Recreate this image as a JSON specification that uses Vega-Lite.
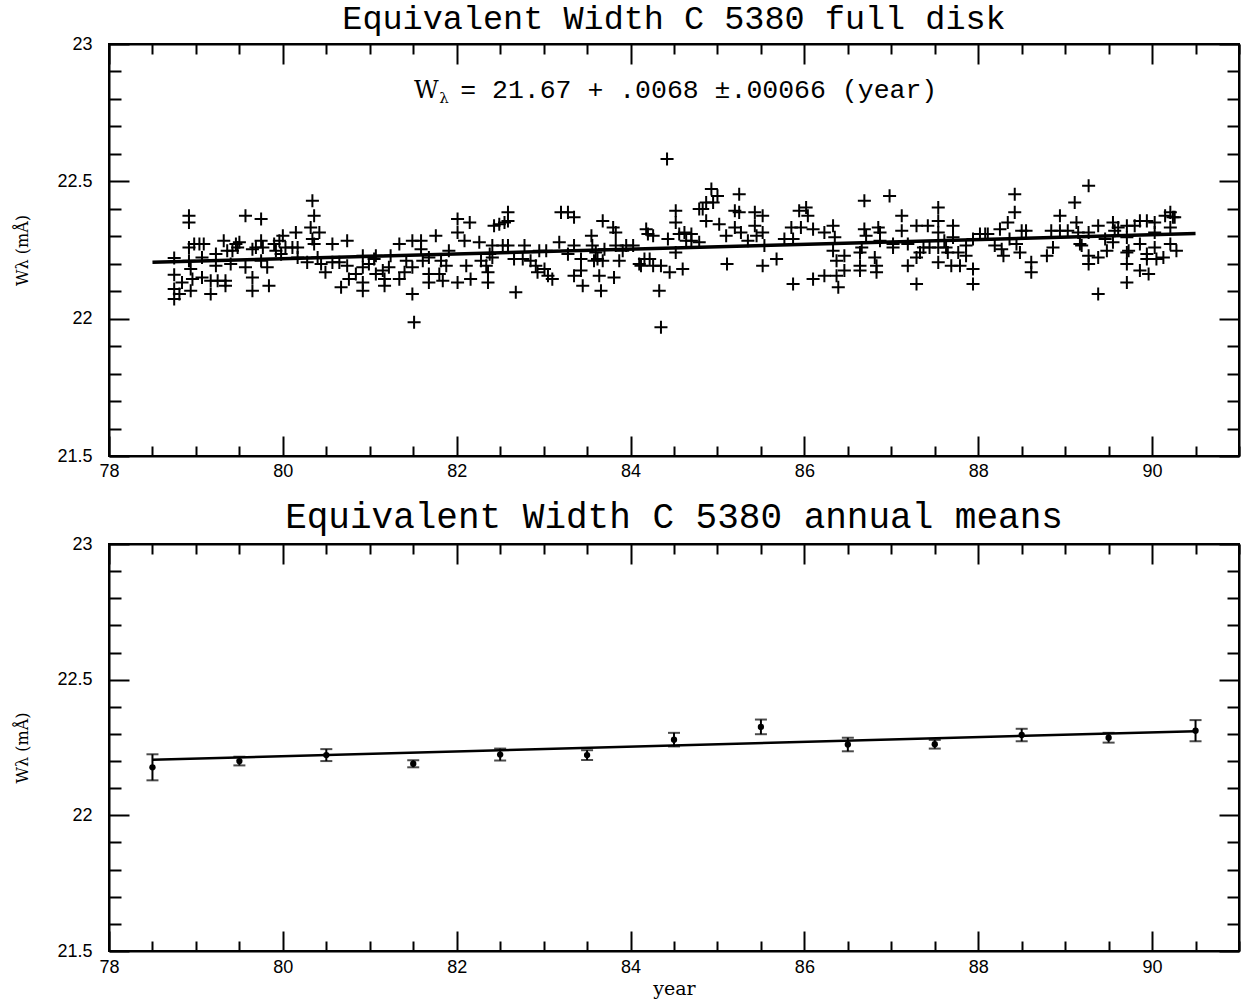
{
"$schema":"https://vega.github.io/schema/vega-lite/v6.json",
"background":"white",
"padding":{"left":13,"top":0,"right":0,"bottom":0},
"spacing":7,
"datasets":{
"fit":[{"year":78.5,"w":22.205},{"year":90.5,"w":22.31}],
"annual":[{"year":78.5,"w":22.177,"err":0.048},{"year":79.5,"w":22.2,"err":0.016},{"year":80.5,"w":22.222,"err":0.022},{"year":81.5,"w":22.19,"err":0.013},{"year":82.5,"w":22.224,"err":0.022},{"year":83.5,"w":22.222,"err":0.018},{"year":84.5,"w":22.279,"err":0.025},{"year":85.5,"w":22.326,"err":0.027},{"year":86.5,"w":22.261,"err":0.025},{"year":87.5,"w":22.262,"err":0.016},{"year":88.5,"w":22.296,"err":0.023},{"year":89.5,"w":22.286,"err":0.018},{"year":90.5,"w":22.312,"err":0.039}],
"disk":[
{"year":78.75,"w":22.221},{"year":78.75,"w":22.160},{"year":78.75,"w":22.108},{"year":78.75,"w":22.072},{"year":78.81,"w":22.090},{"year":78.84,"w":22.132},{"year":78.92,"w":22.375},{"year":78.92,"w":22.350},{"year":78.92,"w":22.259},{"year":78.92,"w":22.211},{"year":78.94,"w":22.181},{"year":78.96,"w":22.144},{"year":78.94,"w":22.102},{"year":78.98,"w":22.272},{"year":79.04,"w":22.272},{"year":79.07,"w":22.223},{"year":79.07,"w":22.150},{"year":79.09,"w":22.272},{"year":79.17,"w":22.090},{"year":79.17,"w":22.138},{"year":79.23,"w":22.235},{"year":79.23,"w":22.193},{"year":79.25,"w":22.138},{"year":79.32,"w":22.284},{"year":79.34,"w":22.138},{"year":79.34,"w":22.120},{"year":79.36,"w":22.247},{"year":79.40,"w":22.199},{"year":79.42,"w":22.247},{"year":79.46,"w":22.272},{"year":79.48,"w":22.259},{"year":79.50,"w":22.278},{"year":79.57,"w":22.375},{"year":79.57,"w":22.187},{"year":79.65,"w":22.150},{"year":79.65,"w":22.102},{"year":79.65,"w":22.253},{"year":79.69,"w":22.259},{"year":79.75,"w":22.284},{"year":79.75,"w":22.363},{"year":79.75,"w":22.211},{"year":79.77,"w":22.259},{"year":79.82,"w":22.187},{"year":79.84,"w":22.120},{"year":79.90,"w":22.272},{"year":79.92,"w":22.247},{"year":79.96,"w":22.284},{"year":79.98,"w":22.235},{"year":80.00,"w":22.302},{"year":80.03,"w":22.259},{"year":80.11,"w":22.259},{"year":80.15,"w":22.314},{"year":80.17,"w":22.259},{"year":80.17,"w":22.223},{"year":80.34,"w":22.429},{"year":80.36,"w":22.375},{"year":80.32,"w":22.332},{"year":80.34,"w":22.290},{"year":80.36,"w":22.272},{"year":80.42,"w":22.314},{"year":80.28,"w":22.205},{"year":80.40,"w":22.223},{"year":80.44,"w":22.199},{"year":80.49,"w":22.169},{"year":80.57,"w":22.272},{"year":80.57,"w":22.205},{"year":80.65,"w":22.205},{"year":80.67,"w":22.114},{"year":80.74,"w":22.284},{"year":80.74,"w":22.193},{"year":80.76,"w":22.144},{"year":80.84,"w":22.163},{"year":80.92,"w":22.229},{"year":80.92,"w":22.187},{"year":80.92,"w":22.132},{"year":80.92,"w":22.102},{"year":80.99,"w":22.199},{"year":81.05,"w":22.217},{"year":81.07,"w":22.229},{"year":81.07,"w":22.163},{"year":81.15,"w":22.175},{"year":81.17,"w":22.144},{"year":81.17,"w":22.120},{"year":81.22,"w":22.187},{"year":81.24,"w":22.229},{"year":81.34,"w":22.272},{"year":81.34,"w":22.144},{"year":81.40,"w":22.169},{"year":81.42,"w":22.211},{"year":81.49,"w":22.284},{"year":81.49,"w":22.187},{"year":81.49,"w":22.090},{"year":81.51,"w":21.987},{"year":81.59,"w":22.284},{"year":81.59,"w":22.253},{"year":81.61,"w":22.211},{"year":81.68,"w":22.223},{"year":81.68,"w":22.163},{"year":81.68,"w":22.132},{"year":81.76,"w":22.302},{"year":81.80,"w":22.163},{"year":81.82,"w":22.211},{"year":81.84,"w":22.138},{"year":81.88,"w":22.193},{"year":81.91,"w":22.247},{"year":82.01,"w":22.363},{"year":82.01,"w":22.314},{"year":82.01,"w":22.132},{"year":82.09,"w":22.284},{"year":82.11,"w":22.193},{"year":82.15,"w":22.350},{"year":82.16,"w":22.144},
{"year":82.26,"w":22.278},{"year":82.28,"w":22.211},{"year":82.34,"w":22.193},{"year":82.36,"w":22.169},{"year":82.36,"w":22.132},{"year":82.38,"w":22.235},{"year":82.41,"w":22.266},{"year":82.41,"w":22.223},{"year":82.43,"w":22.338},{"year":82.49,"w":22.344},{"year":82.53,"w":22.266},{"year":82.55,"w":22.350},{"year":82.59,"w":22.387},{"year":82.59,"w":22.356},{"year":82.59,"w":22.266},{"year":82.66,"w":22.217},{"year":82.68,"w":22.096},{"year":82.76,"w":22.217},{"year":82.78,"w":22.266},{"year":82.85,"w":22.211},{"year":82.91,"w":22.193},{"year":82.93,"w":22.169},{"year":82.95,"w":22.247},{"year":83.01,"w":22.181},{"year":83.03,"w":22.247},{"year":83.05,"w":22.156},{"year":83.10,"w":22.144},{"year":83.18,"w":22.278},{"year":83.20,"w":22.387},{"year":83.28,"w":22.387},{"year":83.28,"w":22.235},{"year":83.35,"w":22.369},{"year":83.35,"w":22.266},{"year":83.35,"w":22.156},{"year":83.43,"w":22.217},{"year":83.43,"w":22.175},{"year":83.45,"w":22.120},{"year":83.55,"w":22.302},{"year":83.56,"w":22.266},{"year":83.58,"w":22.211},{"year":83.60,"w":22.241},{"year":83.62,"w":22.217},{"year":83.64,"w":22.156},{"year":83.66,"w":22.102},{"year":83.68,"w":22.356},{"year":83.68,"w":22.211},{"year":83.70,"w":22.253},{"year":83.80,"w":22.332},{"year":83.81,"w":22.150},{"year":83.83,"w":22.314},{"year":83.83,"w":22.266},{"year":83.87,"w":22.211},{"year":83.91,"w":22.247},{"year":83.95,"w":22.266},{"year":84.03,"w":22.266},{"year":84.10,"w":22.199},{"year":84.12,"w":22.193},{"year":84.16,"w":22.217},{"year":84.18,"w":22.326},{"year":84.20,"w":22.308},{"year":84.22,"w":22.217},{"year":84.26,"w":22.302},{"year":84.26,"w":22.193},{"year":84.33,"w":22.102},{"year":84.35,"w":22.193},{"year":84.35,"w":21.969},{"year":84.42,"w":22.581},{"year":84.43,"w":22.290},{"year":84.45,"w":22.169},{"year":84.52,"w":22.393},{"year":84.52,"w":22.350},{"year":84.52,"w":22.241},{"year":84.56,"w":22.308},{"year":84.60,"w":22.181},{"year":84.62,"w":22.314},{"year":84.64,"w":22.284},{"year":84.70,"w":22.308},{"year":84.70,"w":22.284},{"year":84.79,"w":22.278},{"year":84.79,"w":22.399},{"year":84.83,"w":22.399},{"year":84.87,"w":22.423},{"year":84.87,"w":22.356},{"year":84.93,"w":22.472},{"year":84.95,"w":22.423},{"year":85.00,"w":22.447},{"year":85.02,"w":22.344},{"year":85.10,"w":22.302},{"year":85.11,"w":22.199},{"year":85.25,"w":22.453},{"year":85.20,"w":22.393},{"year":85.25,"w":22.387},{"year":85.20,"w":22.332},{"year":85.27,"w":22.314},{"year":85.35,"w":22.284},{"year":85.43,"w":22.387},{"year":85.43,"w":22.338},{"year":85.45,"w":22.302},{"year":85.52,"w":22.375},{"year":85.52,"w":22.314},{"year":85.52,"w":22.193},{"year":85.54,"w":22.266},{"year":85.68,"w":22.217},{"year":85.77,"w":22.290},{"year":85.85,"w":22.332},{"year":85.87,"w":22.126},{"year":85.87,"w":22.290},{"year":85.94,"w":22.393},{"year":85.96,"w":22.332},{"year":86.02,"w":22.405},{"year":86.04,"w":22.375},{"year":86.10,"w":22.326},{"year":86.10,"w":22.144},{"year":86.23,"w":22.156},{"year":86.23,"w":22.314},{"year":86.33,"w":22.338},{"year":86.33,"w":22.247},{"year":86.35,"w":22.296},{"year":86.37,"w":22.211},{"year":86.39,"w":22.114},{"year":86.37,"w":22.156},{"year":86.46,"w":22.229},{"year":86.46,"w":22.175},{"year":86.64,"w":22.241},{"year":86.64,"w":22.193},{"year":86.64,"w":22.175},{"year":86.69,"w":22.429},{"year":86.69,"w":22.326},{"year":86.71,"w":22.302},{"year":86.81,"w":22.223},{"year":86.83,"w":22.193},{"year":86.83,"w":22.169},{"year":86.85,"w":22.332},
{"year":86.66,"w":22.259},{"year":86.87,"w":22.314},{"year":86.87,"w":22.284},{"year":86.98,"w":22.447},{"year":87.02,"w":22.272},{"year":87.02,"w":22.259},{"year":87.12,"w":22.375},{"year":87.12,"w":22.320},{"year":87.19,"w":22.272},{"year":87.19,"w":22.193},{"year":87.29,"w":22.338},{"year":87.29,"w":22.223},{"year":87.29,"w":22.126},{"year":87.33,"w":22.241},{"year":87.37,"w":22.259},{"year":87.42,"w":22.338},{"year":87.44,"w":22.259},{"year":87.54,"w":22.405},{"year":87.54,"w":22.356},{"year":87.54,"w":22.314},{"year":87.54,"w":22.259},{"year":87.54,"w":22.205},{"year":87.61,"w":22.284},{"year":87.63,"w":22.259},{"year":87.65,"w":22.241},{"year":87.69,"w":22.193},{"year":87.71,"w":22.338},{"year":87.71,"w":22.296},{"year":87.77,"w":22.241},{"year":87.79,"w":22.193},{"year":87.86,"w":22.266},{"year":87.86,"w":22.229},{"year":87.94,"w":22.290},{"year":87.94,"w":22.181},{"year":87.94,"w":22.126},{"year":88.02,"w":22.308},{"year":88.08,"w":22.308},{"year":88.11,"w":22.308},{"year":88.19,"w":22.266},{"year":88.25,"w":22.326},{"year":88.27,"w":22.253},{"year":88.29,"w":22.229},{"year":88.34,"w":22.350},{"year":88.36,"w":22.290},{"year":88.42,"w":22.453},{"year":88.42,"w":22.387},{"year":88.44,"w":22.272},{"year":88.48,"w":22.241},{"year":88.50,"w":22.320},{"year":88.55,"w":22.320},{"year":88.61,"w":22.205},{"year":88.61,"w":22.169},{"year":88.79,"w":22.229},{"year":88.84,"w":22.320},{"year":88.86,"w":22.259},{"year":88.94,"w":22.375},{"year":88.94,"w":22.320},{"year":89.03,"w":22.320},{"year":89.11,"w":22.423},{"year":89.13,"w":22.350},{"year":89.15,"w":22.314},{"year":89.17,"w":22.272},{"year":89.19,"w":22.266},{"year":89.27,"w":22.484},{"year":89.27,"w":22.314},{"year":89.27,"w":22.229},{"year":89.27,"w":22.199},{"year":89.38,"w":22.338},{"year":89.38,"w":22.223},{"year":89.38,"w":22.090},{"year":89.46,"w":22.290},{"year":89.48,"w":22.247},{"year":89.55,"w":22.350},{"year":89.57,"w":22.320},{"year":89.55,"w":22.278},{"year":89.61,"w":22.332},{"year":89.71,"w":22.338},{"year":89.71,"w":22.296},{"year":89.71,"w":22.241},{"year":89.71,"w":22.199},{"year":89.71,"w":22.132},{"year":89.73,"w":22.247},{"year":89.80,"w":22.338},{"year":89.86,"w":22.356},{"year":89.86,"w":22.272},{"year":89.86,"w":22.175},{"year":89.94,"w":22.235},{"year":89.94,"w":22.217},{"year":89.94,"w":22.356},{"year":89.96,"w":22.163},{"year":90.03,"w":22.350},{"year":90.03,"w":22.314},{"year":90.03,"w":22.259},{"year":90.05,"w":22.217},{"year":90.13,"w":22.223},{"year":90.15,"w":22.375},{"year":90.21,"w":22.387},{"year":90.21,"w":22.332},{"year":90.21,"w":22.272},{"year":90.26,"w":22.369},{"year":90.28,"w":22.247},{"year":90.24,"w":22.369}
]
},
"vconcat":[
{
"width":1130,"height":412,
"title":{"text":"Equivalent Width C 5380 full disk","font":"Liberation Mono","fontSize":33.5,"fontWeight":"normal","color":"black","anchor":"middle","offset":-1},
"layer":[
{"data":{"name":"disk"},
 "mark":{"type":"point","shape":"M-1,0L1,0M0,-1L0,1","filled":false,"stroke":"black","strokeWidth":2,"size":170,"opacity":1},
 "encoding":{
  "x":{"field":"year","type":"quantitative","scale":{"domain":[78,91],"nice":false,"zero":false},
   "axis":{"orient":"bottom","title":null,"values":[78,78.5,79,79.5,80,80.5,81,81.5,82,82.5,83,83.5,84,84.5,85,85.5,86,86.5,87,87.5,88,88.5,89,89.5,90,90.5,91],"format":"~g","labelExpr":"datum.value % 2 == 0 && datum.value < 91 ? datum.label : ''","tickSize":{"condition":{"test":"datum.value % 2 == 0","value":-20},"value":-10},"labelPadding":26}},
  "y":{"field":"w","type":"quantitative","scale":{"domain":[21.5,23],"nice":false,"zero":false},
   "axis":{"orient":"left","title":"Wλ (mÅ)","titleFontSize":16,"titlePadding":26,"values":[21.5,21.6,21.7,21.8,21.9,22,22.1,22.2,22.3,22.4,22.5,22.6,22.7,22.8,22.9,23],"format":"~g","labelExpr":"abs(datum.value*2-round(datum.value*2)) < 0.01 ? datum.label : ''","tickSize":{"condition":{"test":"abs(datum.value*2-round(datum.value*2)) < 0.01","value":-20},"value":-12},"labelPadding":37}}
 }},
{"data":{"name":"fit"},
 "mark":{"type":"line","color":"black","strokeWidth":3.5},
 "encoding":{
  "x":{"field":"year","type":"quantitative","axis":{"orient":"top","title":null,"labels":false,"values":[78,78.5,79,79.5,80,80.5,81,81.5,82,82.5,83,83.5,84,84.5,85,85.5,86,86.5,87,87.5,88,88.5,89,89.5,90,90.5,91],"tickSize":{"condition":{"test":"datum.value % 2 == 0","value":-20},"value":-10}}},
  "y":{"field":"w","type":"quantitative","axis":{"orient":"right","title":null,"labels":false,"values":[21.5,21.6,21.7,21.8,21.9,22,22.1,22.2,22.3,22.4,22.5,22.6,22.7,22.8,22.9,23],"tickSize":{"condition":{"test":"abs(datum.value*2-round(datum.value*2)) < 0.01","value":-20},"value":-12}}}
 }},
{"data":{"values":[{}]},
 "mark":{"type":"text","text":"W","font":"DejaVu Serif","fontSize":24,"align":"left","baseline":"alphabetic","color":"black"},
 "encoding":{"x":{"datum":81.51,"type":"quantitative","axis":null},"y":{"datum":22.804,"type":"quantitative","axis":null}}},
{"data":{"values":[{}]},
 "mark":{"type":"text","text":"λ","font":"DejaVu Serif","fontSize":15,"align":"left","baseline":"alphabetic","color":"black"},
 "encoding":{"x":{"datum":81.8,"type":"quantitative","axis":null},"y":{"datum":22.784,"type":"quantitative","axis":null}}},
{"data":{"values":[{}]},
 "mark":{"type":"text","text":"= 21.67 + .0068 ±.00066 (year)","font":"Liberation Mono","fontSize":26.5,"align":"left","baseline":"alphabetic","color":"black"},
 "encoding":{"x":{"datum":82.04,"type":"quantitative","axis":null},"y":{"datum":22.804,"type":"quantitative","axis":null}}}
],
"resolve":{"axis":{"x":"independent","y":"independent"}}
},
{
"width":1130,"height":407,
"title":{"text":"Equivalent Width C 5380 annual means","font":"Liberation Mono","fontSize":36,"fontWeight":"normal","color":"black","anchor":"middle","offset":-1},
"layer":[
{"data":{"name":"annual"},
 "mark":{"type":"errorbar","ticks":{"size":12,"thickness":2,"color":"black"},"rule":{"strokeWidth":2,"color":"black"}},
 "encoding":{
  "x":{"field":"year","type":"quantitative","scale":{"domain":[78,91],"nice":false,"zero":false},"axis":null},
  "y":{"field":"w","type":"quantitative","scale":{"domain":[21.5,23],"nice":false,"zero":false},"axis":null},
  "yError":{"field":"err"}
 }},
{"data":{"name":"annual"},
 "mark":{"type":"point","filled":true,"color":"black","size":40,"opacity":1},
 "encoding":{
  "x":{"field":"year","type":"quantitative",
   "axis":{"orient":"bottom","title":"year","titleFont":"DejaVu Serif","titleFontSize":19,"titlePadding":-7,"values":[78,78.5,79,79.5,80,80.5,81,81.5,82,82.5,83,83.5,84,84.5,85,85.5,86,86.5,87,87.5,88,88.5,89,89.5,90,90.5,91],"format":"~g","labelExpr":"datum.value % 2 == 0 && datum.value < 91 ? datum.label : ''","tickSize":{"condition":{"test":"datum.value % 2 == 0","value":-20},"value":-10},"labelPadding":27}},
  "y":{"field":"w","type":"quantitative",
   "axis":{"orient":"left","title":"Wλ (mÅ)","titleFontSize":16,"titlePadding":26,"values":[21.5,21.6,21.7,21.8,21.9,22,22.1,22.2,22.3,22.4,22.5,22.6,22.7,22.8,22.9,23],"format":"~g","labelExpr":"abs(datum.value*2-round(datum.value*2)) < 0.01 ? datum.label : ''","tickSize":{"condition":{"test":"abs(datum.value*2-round(datum.value*2)) < 0.01","value":-20},"value":-12},"labelPadding":37}}
 }},
{"data":{"name":"fit"},
 "mark":{"type":"line","color":"black","strokeWidth":2.5},
 "encoding":{
  "x":{"field":"year","type":"quantitative","axis":{"orient":"top","title":null,"labels":false,"values":[78,78.5,79,79.5,80,80.5,81,81.5,82,82.5,83,83.5,84,84.5,85,85.5,86,86.5,87,87.5,88,88.5,89,89.5,90,90.5,91],"tickSize":{"condition":{"test":"datum.value % 2 == 0","value":-20},"value":-10}}},
  "y":{"field":"w","type":"quantitative","axis":{"orient":"right","title":null,"labels":false,"values":[21.5,21.6,21.7,21.8,21.9,22,22.1,22.2,22.3,22.4,22.5,22.6,22.7,22.8,22.9,23],"tickSize":{"condition":{"test":"abs(datum.value*2-round(datum.value*2)) < 0.01","value":-20},"value":-12}}}
 }}
],
"resolve":{"axis":{"x":"independent","y":"independent"}}
}
],
"config":{
 "view":{"stroke":"black","strokeWidth":2},
 "axis":{"grid":false,"domainColor":"black","domainWidth":2,"tickColor":"black","tickWidth":2,"labelColor":"black","labelFont":"Liberation Sans","labelFontSize":18,"labelFlush":false,"labelOverlap":false,"labelBound":false,"titleColor":"black","titleFont":"DejaVu Serif","titleFontWeight":"normal"}
}
}
